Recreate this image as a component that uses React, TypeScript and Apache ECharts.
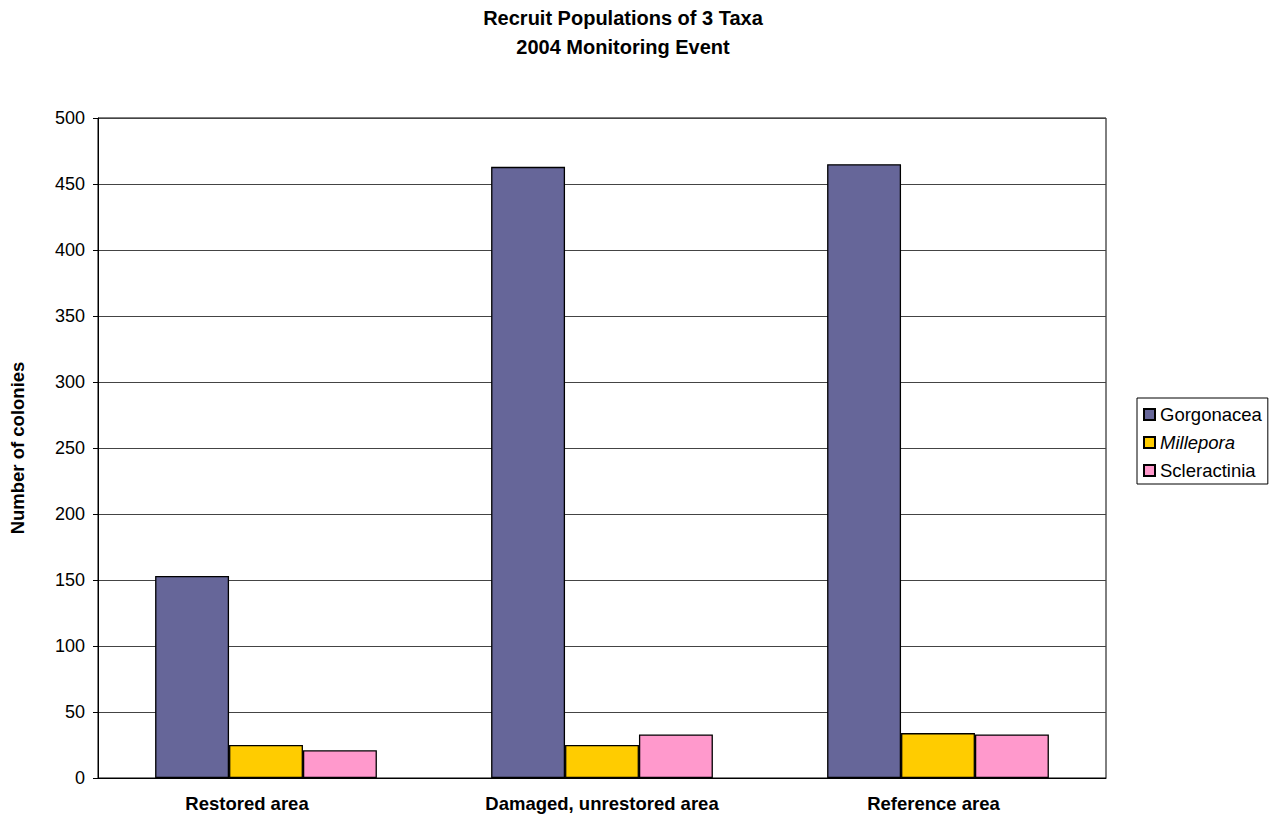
import React, { useEffect, useRef } from "react";
import * as echarts from "echarts";

const categories = ["Restored area", "Damaged, unrestored area", "Reference area"];
const seriesNames = ["Gorgonacea", "Millepora", "Scleractinia"];
const gorgonacea = [153, 463, 465];
const millepora = [25, 25, 34];
const scleractinia = [21, 33, 33];
const colors = ["#666699", "#FFCC00", "#FF99CC"];
const titleLines = ["Recruit Populations of 3 Taxa", "2004 Monitoring Event"];
const yAxisName = "Number of colonies";

export default function App() {
  const ref = useRef<HTMLDivElement>(null);
  useEffect(() => {
    document.body.style.margin = "0";
    const chart = echarts.init(ref.current!, null, { renderer: "svg" });
    const font = "Arial, 'Liberation Sans', sans-serif";
    const values = [gorgonacea, millepora, scleractinia];
    const catLabel = { fontFamily: font, fontSize: 18.5, fontWeight: "bold", color: "#000" };
    chart.setOption({
      animation: false,
      backgroundColor: "#fff",
      textStyle: { fontFamily: font },
      title: [
        {
          text: titleLines[0],
          left: 623,
          top: 8,
          padding: 0,
          textAlign: "center",
          textStyle: { fontFamily: font, fontSize: 20, fontWeight: "bold", color: "#000" },
        },
        {
          text: titleLines[1],
          left: 623,
          top: 37,
          padding: 0,
          textAlign: "center",
          textStyle: { fontFamily: font, fontSize: 20, fontWeight: "bold", color: "#000" },
        },
      ],
      legend: {
        orient: "vertical",
        left: 1137,
        top: 398,
        data: seriesNames,
        itemWidth: 11,
        itemHeight: 11,
        itemGap: 9,
        itemTextGap: 5,
        padding: [7, 6, 4, 6],
        borderColor: "#000",
        borderWidth: 1,
        icon: "rect",
        formatter: (name: string) => (name === "Millepora" ? "{i|" + name + "}" : name),
        textStyle: {
          fontFamily: font,
          fontSize: 18.5,
          color: "#000",
          rich: { i: { fontStyle: "italic", fontFamily: font, fontSize: 18.5, color: "#000" } },
        },
      },
      grid: {
        left: 97,
        right: 167,
        top: 118,
        bottom: 39,
        show: true,
        borderColor: "#000",
        borderWidth: 1,
        containLabel: false,
      },
      xAxis: {
        type: "category",
        data: categories,
        axisLine: { lineStyle: { color: "#000", width: 1 } },
        axisTick: { show: false },
        axisLabel: {
          ...catLabel,
          interval: 0,
          hideOverlap: false,
          margin: 16,
          formatter: (v: string, idx: number) => ["{a|", "{b|", "{c|"][idx] + v + "}",
          rich: {
            a: { ...catLabel, padding: [0, 38, 0, 0] },
            b: { ...catLabel },
            c: { ...catLabel, padding: [0, 9, 0, 0] },
          },
        },
      },
      yAxis: {
        type: "value",
        min: 0,
        max: 500,
        interval: 50,
        name: yAxisName,
        nameLocation: "middle",
        nameGap: 71,
        nameTextStyle: { fontFamily: font, fontSize: 18.5, fontWeight: "bold", color: "#000" },
        axisLine: { show: true, lineStyle: { color: "#000", width: 1 } },
        axisTick: { show: true, length: 5, lineStyle: { color: "#000" } },
        axisLabel: { fontFamily: font, fontSize: 18, color: "#000", margin: 13 },
        splitLine: { show: true, lineStyle: { color: "#444", width: 1 } },
      },
      series: seriesNames.map((name, i) => ({
        name,
        type: "bar",
        data: values[i],
        barGap: "0%",
        barCategoryGap: "34%",
        itemStyle: { color: colors[i], borderColor: "#000", borderWidth: 1.3 },
      })),
    });
    return () => chart.dispose();
  }, []);
  return <div ref={ref} style={{ width: 1273, height: 817 }} />;
}
